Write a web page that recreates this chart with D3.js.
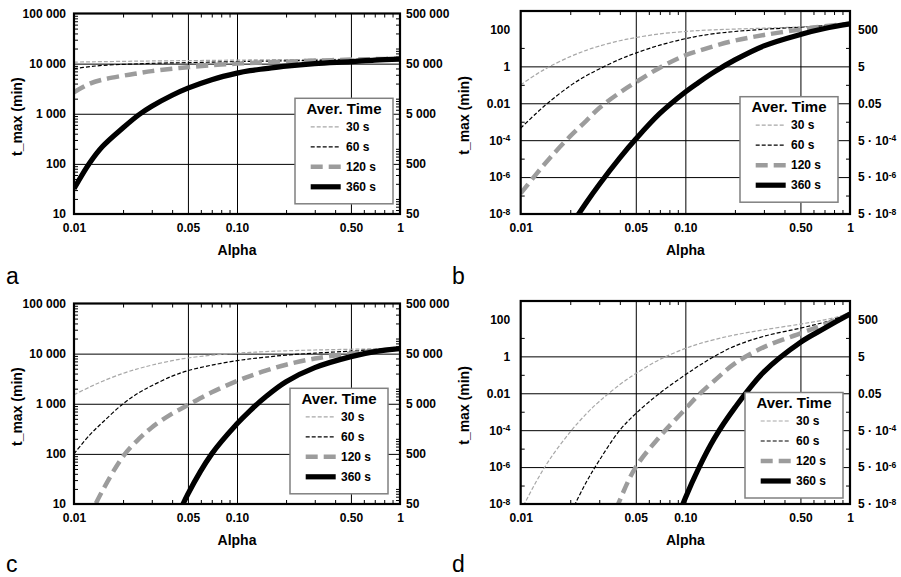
<!DOCTYPE html>
<html><head><meta charset="utf-8">
<script src="https://cdn.jsdelivr.net/npm/d3@7"></script>
<style>
body{margin:0;background:#fff}
svg{display:block}
text{font-family:"Liberation Sans",Arial,Helvetica,sans-serif}
</style>
</head><body>
<svg id="chart" width="901" height="577"></svg>
<script>
// ---------------- data ----------------
const alpha = [0.01, 0.0125, 0.015, 0.02, 0.025, 0.03, 0.04, 0.05, 0.07, 0.1, 0.12, 0.15, 0.2, 0.3, 0.5, 0.7, 1];
const seriesNames = ["30 s", "60 s", "120 s", "360 s"];

// panel a  (t_max, min)
const a30  = [10720, 10840, 10960, 11090, 11220, 11300, 11400, 11480, 11610, 11750, 11830, 11940, 12020, 12160, 12300, 12450, 12590];
const a60  = [7940, 8710, 9230, 9660, 9890, 10120, 10350, 10470, 10720, 10960, 11090, 11220, 11350, 11610, 12020, 12300, 12590];
const a120 = [2690, 3980, 4790, 5750, 6460, 7080, 7940, 8510, 9330, 10000, 10280, 10590, 10960, 11480, 12020, 12300, 12590];
const a360 = [32, 105, 224, 525, 955, 1410, 2340, 3240, 4790, 6460, 7240, 7940, 8910, 10000, 10960, 11750, 12300];

// panel b
const b30  = [0.1, 0.38, 0.98, 3.39, 7.41, 12.6, 24.5, 36.3, 57.5, 77.6, 87.1, 95.5, 105, 117, 138, 162, 200];
const b60  = [4.5e-4, 3e-3, 0.0126, 0.089, 0.31, 0.72, 2.43, 5.25, 14.1, 31.6, 43.7, 58.9, 77.6, 102, 132, 158, 200];
const b120 = [1.3e-7, 1.55e-6, 1.05e-5, 1.66e-4, 1.12e-3, 5.6e-3, 0.038, 0.138, 0.85, 3.98, 6.9, 12.6, 25, 50, 100, 151, 204];
const b360 = [5e-14, 2e-12, 3.2e-11, 2e-9, 4.1e-8, 4e-7, 1.1e-5, 1.15e-4, 2.8e-3, 0.041, 0.132, 0.5, 2.24, 12.9, 53.7, 112, 200];

// panel c
const c30  = [1510, 2160, 2820, 4040, 5050, 5890, 7240, 8180, 9290, 10190, 10570, 10960, 11380, 11800, 12220, 12450, 12590];
const c60  = [100, 240, 427, 1000, 1660, 2290, 3550, 4570, 5890, 7240, 7850, 8510, 9330, 10230, 11220, 12020, 12590];
const c120 = [1.07, 5.68, 18.8, 89.1, 199, 337, 635, 940, 1690, 2840, 3570, 4570, 6010, 7980, 10050, 11300, 12590];
const c360 = [1e-5, 1e-4, 6.3e-4, 0.01, 0.079, 0.25, 3.16, 15.8, 100, 398, 724, 1380, 2750, 5250, 8710, 10960, 12590];

// panel d
const d30  = [4.1e-9, 1.8e-7, 2.6e-6, 8.1e-5, 7.6e-4, 3.6e-3, 0.0295, 0.117, 0.68, 2.69, 4.68, 8.13, 14.5, 27.5, 56.2, 95.5, 200];
const d60  = [2e-16, 7.9e-14, 6.3e-12, 2.7e-9, 1.5e-7, 2.3e-6, 1e-4, 7.9e-4, 0.0102, 0.1, 0.295, 1.0, 3.63, 12.3, 33.9, 70.8, 200];
const d120 = [7.9e-29, 1.6e-24, 2.5e-21, 7.9e-17, 1e-13, 1.6e-11, 1.6e-8, 1e-6, 4.5e-5, 1.4e-3, 7.9e-3, 0.048, 0.417, 3.16, 17.8, 52.5, 200];
const d360 = [6.3e-46, 1.3e-40, 1.3e-36, 1e-30, 1.3e-26, 1.3e-23, 3.2e-19, 3.2e-16, 4e-12, 2.1e-8, 8.1e-7, 3.6e-5, 1.66e-3, 0.145, 5.75, 33.1, 200];

// ticks
const xTicks = [0.01, 0.05, 0.1, 0.5, 1];
const xTickLabels = ["0.01", "0.05", "0.10", "0.50", "1"];
const xGrid = [0.05, 0.1, 0.5];

const yTicksLin = [10, 100, 1000, 10000, 100000];
const yTickLabelsLin = ["10", "100", "1 000", "10 000", "100 000"];
const yTicksLinR = [50, 500, 5000, 50000, 500000];
const yTickLabelsLinR = ["50", "500", "5 000", "50 000", "500 000"];

const yTicksSm = [1e-8, 1e-6, 1e-4, 0.01, 1, 100];
const yTickLabelsSm = ["10^-8", "10^-6", "10^-4", "0.01", "1", "100"];
const yTicksSmR = [5e-8, 5e-6, 5e-4, 0.05, 5, 500];
const yTickLabelsSmR = ["5 · 10^-8", "5 · 10^-6", "5 · 10^-4", "0.05", "5", "500"];

const xTitle = "Alpha";
const yTitle = "t_max (min)";
const legendTitle = "Aver. Time";

// ---------------- styles ----------------
const styles = [
  {stroke: "#a8a8a8", width: 1.2, dash: "4,2"},
  {stroke: "#000000", width: 1.2, dash: "4,2"},
  {stroke: "#9c9c9c", width: 4.5, dash: "12,6"},
  {stroke: "#000000", width: 5.2, dash: null}
];

const panels = [
  {letter: "a", box: [74, 13.5, 400, 214], yDom: [10, 1e5], yDomR: [50, 5e5], kind: "big",
   data: [a30, a60, a120, a360], legend: [295, 98.3], lpad: 8, rpad: 6, titleX: 22, letterPos: [6, 284]},
  {letter: "b", box: [520.7, 11, 850, 214], yDom: [1e-8, 1e3], yDomR: [5e-8, 5e3], kind: "small",
   data: [b30, b60, b120, b360], legend: [740, 96.7], lpad: 10.5, rpad: 8, titleX: 469, letterPos: [452, 284]},
  {letter: "c", box: [74, 303.5, 400, 504], yDom: [10, 1e5], yDomR: [50, 5e5], kind: "big",
   data: [c30, c60, c120, c360], legend: [290, 388.3], lpad: 8, rpad: 6, titleX: 22, letterPos: [6, 572]},
  {letter: "d", box: [520.7, 301, 850, 504], yDom: [1e-8, 1e3], yDomR: [5e-8, 5e3], kind: "small",
   data: [d30, d60, d120, d360], legend: [745, 392.5], lpad: 10.5, rpad: 8, titleX: 469, letterPos: [452, 572]}
];

const svg = d3.select("#chart");

function supLabels(sel) {
  sel.selectAll(".tick text").each(function () {
    const t = d3.select(this);
    const s = t.text();
    if (s.indexOf("^") >= 0) {
      const [base, exp] = s.split("^");
      t.text(null);
      t.append("tspan").text(base);
      t.append("tspan").attr("dy", "-0.45em").attr("font-size", "8.5px").text(exp);
    }
  });
}
function stripDomain(g) { g.select(".domain").remove(); }

function minorLog(dom, skip) {
  const out = [];
  const lo = Math.floor(Math.log10(dom[0])) - 1, hi = Math.ceil(Math.log10(dom[1])) + 1;
  for (let e = lo; e <= hi; e++) for (let m = 1; m <= 9; m++) {
    const v = m * Math.pow(10, e);
    if (v > dom[0] * 1.0001 && v < dom[1] * 0.9999 && !skip(v)) out.push(v);
  }
  return out;
}

panels.forEach((p, pi) => {
  const [x0, y0, x1, y1] = p.box;
  const w = x1 - x0, h = y1 - y0;
  const g = svg.append("g");
  const x = d3.scaleLog().domain([0.01, 1]).range([x0, x1]);
  const y = d3.scaleLog().domain(p.yDom).range([y1, y0]);
  const yR = d3.scaleLog().domain(p.yDomR).range([y1, y0]);

  const yTicks = p.kind === "big" ? yTicksLin : yTicksSm;
  const yLabels = p.kind === "big" ? yTickLabelsLin : yTickLabelsSm;
  const yTicksR = p.kind === "big" ? yTicksLinR : yTicksSmR;
  const yLabelsR = p.kind === "big" ? yTickLabelsLinR : yTickLabelsSmR;

  // grid lines
  g.append("g").attr("transform", `translate(0,${y1})`)
    .call(d3.axisBottom(x).tickValues(xGrid).tickSize(-h).tickFormat(""))
    .call(stripDomain)
    .selectAll("line").attr("stroke", "#000").attr("stroke-width", 1);
  g.append("g").attr("transform", `translate(${x0},0)`)
    .call(d3.axisLeft(y).tickValues(yTicks.slice(1, -1)).tickSize(-w).tickFormat(""))
    .call(stripDomain)
    .selectAll("line").attr("stroke", "#000").attr("stroke-width", 1);

  // minor ticks
  const xMinor = minorLog([0.01, 1], v => xTicks.some(t => Math.abs(t - v) < 1e-9));
  g.append("g").attr("transform", `translate(0,${y1})`)
    .call(d3.axisBottom(x).tickValues(xMinor).tickSize(-4).tickFormat("")).call(stripDomain)
    .selectAll("line").attr("stroke", "#000");
  g.append("g").attr("transform", `translate(0,${y0})`)
    .call(d3.axisTop(x).tickValues(xMinor).tickSize(-4).tickFormat("")).call(stripDomain)
    .selectAll("line").attr("stroke", "#000");
  const yMinor = p.kind === "big"
    ? minorLog(p.yDom, v => yTicks.some(t => Math.abs(t - v) / t < 1e-6))
    : yTicks.map(v => v * 10).filter(v => v < p.yDom[1]);
  g.append("g").attr("transform", `translate(${x0},0)`)
    .call(d3.axisLeft(y).tickValues(yMinor).tickSize(-4).tickFormat("")).call(stripDomain)
    .selectAll("line").attr("stroke", "#000");
  const yMinorR = p.kind === "big"
    ? minorLog(p.yDomR, v => yTicksR.some(t => Math.abs(t - v) / t < 1e-6))
    : yTicksR.map(v => v * 10).filter(v => v < p.yDomR[1]);
  g.append("g").attr("transform", `translate(${x1},0)`)
    .call(d3.axisRight(yR).tickValues(yMinorR).tickSize(-4).tickFormat("")).call(stripDomain)
    .selectAll("line").attr("stroke", "#000");

  // curves
  const clipId = "clip" + pi;
  svg.append("clipPath").attr("id", clipId).append("rect")
    .attr("x", x0).attr("y", y0).attr("width", w).attr("height", h);
  const line = d3.line().x(d => x(d[0])).y(d => y(d[1])).curve(d3.curveCatmullRom.alpha(0.5));
  const cg = g.append("g").attr("clip-path", `url(#${clipId})`);
  p.data.forEach((vals, si) => {
    const pts = alpha.map((a, i) => [a, vals[i]]);
    const st = styles[si];
    cg.append("path").attr("d", line(pts)).attr("fill", "none")
      .attr("stroke", st.stroke).attr("stroke-width", st.width)
      .attr("stroke-dasharray", st.dash).attr("stroke-linejoin", "round");
  });

  // frame
  g.append("rect").attr("x", x0).attr("y", y0).attr("width", w).attr("height", h)
    .attr("fill", "none").attr("stroke", "#000").attr("stroke-width", 2.2);

  // axes labels
  const xa = g.append("g").attr("transform", `translate(0,${y1})`)
    .call(d3.axisBottom(x).tickValues(xTicks).tickFormat((d, i) => xTickLabels[i]).tickSize(0).tickPadding(9))
    .call(stripDomain);
  const ya = g.append("g").attr("transform", `translate(${x0},0)`)
    .call(d3.axisLeft(y).tickValues(yTicks).tickFormat((d, i) => yLabels[i]).tickSize(0).tickPadding(p.lpad))
    .call(stripDomain).call(supLabels);
  const yb = g.append("g").attr("transform", `translate(${x1},0)`)
    .call(d3.axisRight(yR).tickValues(yTicksR).tickFormat((d, i) => yLabelsR[i]).tickSize(0).tickPadding(p.rpad))
    .call(stripDomain).call(supLabels);
  [xa, ya, yb].forEach(a => a.selectAll("text")
    .attr("font-size", "12px").attr("font-weight", "bold").attr("fill", "#000")
    .attr("font-family", '"Liberation Sans",Arial,sans-serif'));

  // titles
  g.append("text").attr("x", (x0 + x1) / 2).attr("y", y1 + 41).attr("text-anchor", "middle")
    .attr("font-size", "14px").attr("font-weight", "bold").text(xTitle);
  g.append("text").attr("transform", `translate(${p.titleX},${(y0 + y1) / 2 + 3}) rotate(-90)`)
    .attr("text-anchor", "middle").attr("font-size", "14px").attr("font-weight", "bold").text(yTitle);
  g.append("text").attr("x", p.letterPos[0]).attr("y", p.letterPos[1])
    .attr("font-size", "23px").text(p.letter);

  // legend
  const [lx, ly] = p.legend;
  const lg = g.append("g").attr("transform", `translate(${lx},${ly})`);
  lg.append("rect").attr("width", 98).attr("height", 105.5).attr("fill", "#fff")
    .attr("stroke", "#808080").attr("stroke-width", 1.5);
  lg.append("text").attr("x", 49).attr("y", 15.3).attr("text-anchor", "middle")
    .attr("font-size", "15px").attr("font-weight", "bold").text(legendTitle);
  seriesNames.forEach((nm, i) => {
    const yy = 28.5 + i * 20;
    const st = styles[i];
    lg.append("line").attr("x1", 15.7).attr("x2", 45.7).attr("y1", yy).attr("y2", yy)
      .attr("stroke", st.stroke).attr("stroke-width", st.width).attr("stroke-dasharray", st.dash);
    lg.append("text").attr("x", 51).attr("y", yy + 4.3)
      .attr("font-size", "12px").attr("font-weight", "bold").text(nm);
  });
});
</script>
</body></html>
